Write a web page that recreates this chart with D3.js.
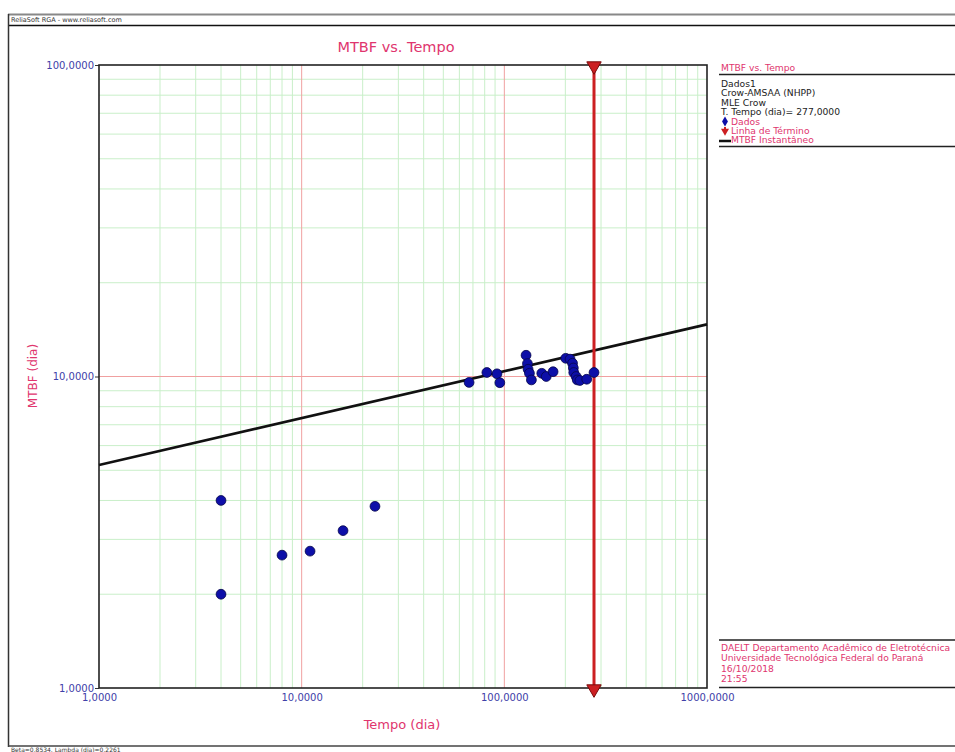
<!DOCTYPE html>
<html>
<head>
<meta charset="utf-8">
<script src="https://cdn.jsdelivr.net/npm/d3@7"></script>
<style>
  html, body { margin: 0; padding: 0; background: #fff; }
  svg { display: block; font-family: "DejaVu Sans", Verdana, sans-serif; }
</style>
</head>
<body>
<svg id="chart" width="955" height="752"></svg>
<script>
// ---- Data ----
const tempo = [4, 4, 8, 11, 16, 23, 67, 82, 92, 95, 128, 130, 131, 133, 136, 153, 161, 174, 201, 211, 217, 219, 220, 226, 229, 236, 255, 277];
const mtbf  = [4.0, 2.0, 2.67, 2.75, 3.2, 3.83, 9.57, 10.3, 10.2, 9.55, 11.7, 11.0, 10.55, 10.24, 9.75, 10.24, 10.0, 10.36, 11.44, 11.37, 11.03, 10.65, 10.3, 10.0, 9.75, 9.71, 9.8, 10.3];
const instTempo = [1, 1000];
const instMTBF  = [5.2, 14.7];
const terminoTempo = 277;
const xTickValues = [1, 10, 100, 1000];
const xTickLabels = ["1,0000", "10,0000", "100,0000", "1000,0000"];
const yTickValues = [1, 10, 100];
const yTickLabels = ["1,0000", "10,0000", "100,0000"];
const legendInfo = ["Dados1", "Crow-AMSAA (NHPP)", "MLE Crow", "T. Tempo (dia)= 277,0000"];
const legendSeries = ["Dados", "Linha de Término", "MTBF Instantâneo"];
const footerInfo = ["DAELT Departamento Acadêmico de Eletrotécnica", "Universidade Tecnológica Federal do Paraná", "16/10/2018", "21:55"];

const svg = d3.select("#chart");
const crimson = "#e0356e";
const tickBlue = "#4040a8";

const x = d3.scaleLog().domain([1, 1000]).range([99, 707]);
const y = d3.scaleLog().domain([1, 100]).range([688, 65]);

// ---- Outer frame ----
svg.append("line").attr("x1", 8).attr("x2", 955).attr("y1", 14.5).attr("y2", 14.5).attr("stroke", "#888").attr("stroke-width", 2);
svg.append("line").attr("x1", 8).attr("x2", 955).attr("y1", 25.5).attr("y2", 25.5).attr("stroke", "#111").attr("stroke-width", 1.5);
svg.append("line").attr("x1", 8.5).attr("x2", 8.5).attr("y1", 14).attr("y2", 747).attr("stroke", "#333").attr("stroke-width", 1.5);
svg.append("line").attr("x1", 8).attr("x2", 955).attr("y1", 746).attr("y2", 746).attr("stroke", "#444").attr("stroke-width", 1.5);
svg.append("text").attr("x", 11).attr("y", 22).attr("font-size", 6.5).attr("fill", "#333").text("ReliaSoft RGA - www.reliasoft.com");
svg.append("text").attr("x", 11).attr("y", 752).attr("font-size", 6).attr("fill", "#333").text("Beta=0,8534, Lambda (dia)=0,2261");

// ---- Grid ----
const gx = x.ticks().filter(v => v > 1 && v < 1000);
const gy = y.ticks().filter(v => v > 1 && v < 100);
const isMajor = v => Math.abs(Math.log10(v) - Math.round(Math.log10(v))) < 1e-9;
const grid = svg.append("g");
grid.selectAll("line.vx").data(gx.filter(v => !isMajor(v))).join("line")
  .attr("x1", d => x(d)).attr("x2", d => x(d)).attr("y1", y(100)).attr("y2", y(1))
  .attr("stroke", "#c9efc9").attr("stroke-width", 1);
grid.selectAll("line.hy").data(gy.filter(v => !isMajor(v))).join("line")
  .attr("y1", d => y(d)).attr("y2", d => y(d)).attr("x1", x(1)).attr("x2", x(1000))
  .attr("stroke", "#c9efc9").attr("stroke-width", 1);
grid.selectAll("line.vmx").data(gx.filter(isMajor)).join("line")
  .attr("x1", d => x(d)).attr("x2", d => x(d)).attr("y1", y(100)).attr("y2", y(1))
  .attr("stroke", "#f0a0a0").attr("stroke-width", 1);
grid.selectAll("line.hmy").data(gy.filter(isMajor)).join("line")
  .attr("y1", d => y(d)).attr("y2", d => y(d)).attr("x1", x(1)).attr("x2", x(1000))
  .attr("stroke", "#f0a0a0").attr("stroke-width", 1);

// ---- Axes ----
const yAxis = d3.axisLeft(y).tickValues(yTickValues).tickSize(4).tickPadding(1)
  .tickFormat((d, i) => yTickLabels[i]);
const ya = svg.append("g").attr("transform", `translate(${x(1)},0)`).call(yAxis);
ya.select(".domain").remove();
ya.selectAll("line").attr("stroke", "#333");
ya.selectAll("text").attr("fill", tickBlue).attr("font-size", 10).attr("font-family", "DejaVu Sans");

const xAxis = d3.axisBottom(x).tickValues(xTickValues).tickSize(0).tickPadding(6)
  .tickFormat((d, i) => xTickLabels[i]);
const xa = svg.append("g").attr("transform", `translate(0,${y(1)})`).call(xAxis);
xa.select(".domain").remove();
xa.selectAll("text").attr("fill", tickBlue).attr("font-size", 10).attr("font-family", "DejaVu Sans");

// ---- Plot frame ----
svg.append("rect").attr("x", x(1)).attr("y", y(100)).attr("width", x(1000) - x(1)).attr("height", y(1) - y(100))
  .attr("fill", "none").attr("stroke", "#222").attr("stroke-width", 1.6);

// ---- Titles ----
svg.append("text").attr("x", 396).attr("y", 52).attr("text-anchor", "middle").attr("font-size", 14.5)
  .attr("fill", crimson).text("MTBF vs. Tempo");
svg.append("text").attr("transform", "translate(37,376) rotate(-90)").attr("text-anchor", "middle")
  .attr("font-size", 12).attr("fill", crimson).text("MTBF (dia)");
svg.append("text").attr("x", 402).attr("y", 729).attr("text-anchor", "middle").attr("font-size", 13)
  .attr("fill", crimson).text("Tempo (dia)");

// ---- Instantaneous MTBF line ----
const line = d3.line().x(d => x(d[0])).y(d => y(d[1]));
svg.append("path").datum(instTempo.map((t, i) => [t, instMTBF[i]])).attr("d", line)
  .attr("fill", "none").attr("stroke", "#111").attr("stroke-width", 2.6);

// ---- Termination line ----
const red = "#cc1f22";
const xt = x(terminoTempo);
svg.append("line").attr("x1", xt).attr("x2", xt).attr("y1", y(100)).attr("y2", y(1))
  .attr("stroke", red).attr("stroke-width", 3);
const tri = d3.symbol().type(d3.symbolTriangle).size(90);
[100, 1].forEach(v => {
  svg.append("path").attr("d", tri()).attr("transform", `translate(${xt},${y(v) + 1}) rotate(180)`)
    .attr("fill", red).attr("stroke", "#7a0a0a").attr("stroke-width", 1);
});

// ---- Data points ----
svg.append("g").selectAll("circle").data(tempo.map((t, i) => [t, mtbf[i]])).join("circle")
  .attr("cx", d => x(d[0])).attr("cy", d => y(d[1])).attr("r", 4.9)
  .attr("fill", "#0d0fa8").attr("stroke", "#06064a").attr("stroke-width", 0.8);

// ---- Right legend ----
const lx = 721;
const lfs = 9.2;
svg.append("text").attr("x", lx).attr("y", 71).attr("font-size", lfs).attr("fill", crimson).text("MTBF vs. Tempo");
svg.append("line").attr("x1", 719).attr("x2", 955).attr("y1", 74.5).attr("y2", 74.5).attr("stroke", "#222").attr("stroke-width", 1.6);
legendInfo.forEach((s, i) => {
  svg.append("text").attr("x", lx).attr("y", 87 + i * 9.4).attr("font-size", lfs).attr("fill", "#222").text(s);
});
legendSeries.forEach((s, i) => {
  svg.append("text").attr("x", lx + 10).attr("y", 124.6 + i * 9.4).attr("font-size", lfs).attr("fill", crimson).text(s);
});
// legend markers
svg.append("path").attr("d", d3.symbol().type(d3.symbolDiamond).size(30)()).attr("transform", "translate(725,121.5)")
  .attr("fill", "#0d0fa8");
svg.append("path").attr("d", d3.symbol().type(d3.symbolTriangle).size(28)()).attr("transform", "translate(725,131) rotate(180)")
  .attr("fill", red);
svg.append("line").attr("x1", 725).attr("x2", 725).attr("y1", 127).attr("y2", 134).attr("stroke", red).attr("stroke-width", 2);
svg.append("line").attr("x1", 719).attr("x2", 731).attr("y1", 141).attr("y2", 141).attr("stroke", "#111").attr("stroke-width", 2.5);
svg.append("line").attr("x1", 719).attr("x2", 955).attr("y1", 146.5).attr("y2", 146.5).attr("stroke", "#222").attr("stroke-width", 1.6);

// ---- Bottom-right info box ----
svg.append("line").attr("x1", 719).attr("x2", 955).attr("y1", 640).attr("y2", 640).attr("stroke", "#222").attr("stroke-width", 1.6);
footerInfo.forEach((s, i) => {
  svg.append("text").attr("x", lx).attr("y", 651 + i * 10.3).attr("font-size", lfs).attr("fill", crimson).text(s);
});
svg.append("line").attr("x1", 719).attr("x2", 955).attr("y1", 687.5).attr("y2", 687.5).attr("stroke", "#222").attr("stroke-width", 1.6);
</script>
</body>
</html>
